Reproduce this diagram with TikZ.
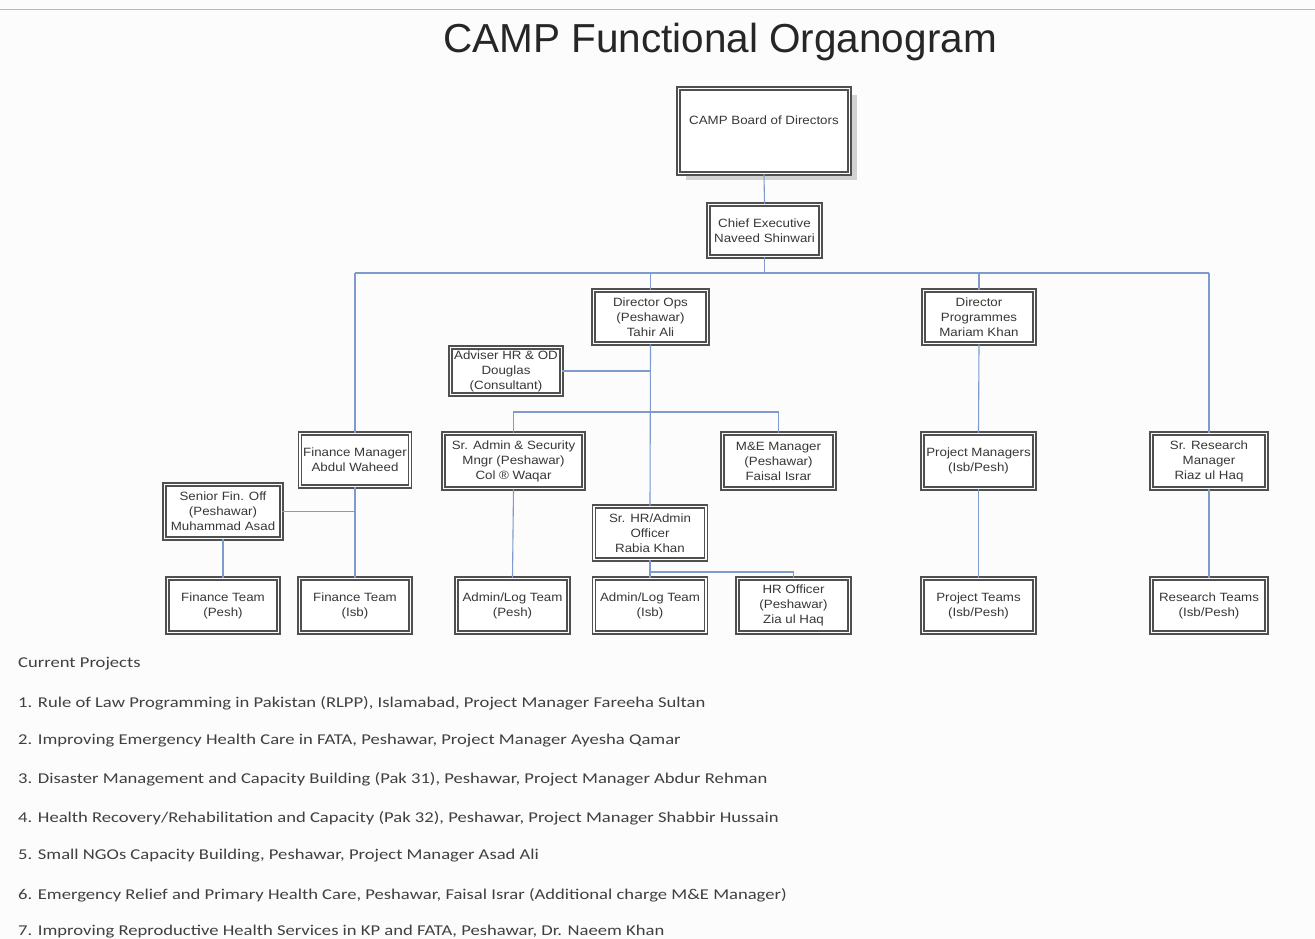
\documentclass[tikz,border=0pt]{standalone}
\usepackage{fontspec}
\setmainfont{Liberation Sans}
\newfontfamily\listfont[FakeStretch=1.24]{Carlito}
\newfontfamily\boxfont[FakeStretch=1.11]{Liberation Sans}
\usetikzlibrary{shadows}
\definecolor{boxgray}{RGB}{80,80,80}
\definecolor{conn}{RGB}{125,155,205}
\definecolor{txt}{RGB}{55,55,55}
\definecolor{bg}{RGB}{252,252,252}
\begin{document}
\begin{tikzpicture}[x=1pt,y=-1pt,
  orgbox/.style={draw=boxgray, line width=1.5pt, double=white, double distance=1.4pt,
    fill=white, align=center, inner sep=1pt, text=txt,
    font=\boxfont\fontsize{12}{15}\selectfont},
  link/.style={draw=conn, line width=1.1pt},
  listitem/.style={anchor=west, inner sep=0pt, text=black!75, font=\listfont\fontsize{15}{18}\selectfont}]
\useasboundingbox (0,0) rectangle (1315,939);
\fill[bg] (0,0) rectangle (1315,939);
\draw[gray!55, line width=1pt] (0,10) -- (1315,10);

\node[font=\fontsize{40.5}{44}\selectfont, text=black!85] (title) at (720,42) {CAMP Functional Organogram};

% boxes
\node[orgbox, minimum width=171pt, minimum height=85pt,
  drop shadow={shadow xshift=7pt, shadow yshift=-7pt, fill=gray!35, opacity=1}] (board) at (764,131) {\raisebox{6pt}[0pt][0pt]{CAMP Board of Directors}};
\node[orgbox, minimum width=112pt, minimum height=52pt] (ce) at (764.5,230.5) {Chief Executive\\Naveed Shinwari};
\node[orgbox, minimum width=114pt, minimum height=53pt] (dops) at (650.5,317) {Director Ops\\(Peshawar)\\Tahir Ali};
\node[orgbox, minimum width=111pt, minimum height=53pt] (dprog) at (979,317) {Director\\Programmes\\Mariam Khan};
\node[orgbox, minimum width=111pt, minimum height=47pt] (adv) at (506,371) {Adviser HR \& OD\\Douglas\\(Consultant)};
\node[orgbox, minimum width=110pt, minimum height=53pt] (fm) at (355,460) {Finance Manager\\Abdul Waheed};
\node[orgbox, minimum width=140pt, minimum height=55pt] (sadm) at (513.5,461) {Sr. Admin \& Security\\Mngr (Peshawar)\\Col \textregistered{} Waqar};
\node[orgbox, minimum width=112pt, minimum height=55pt] (me) at (778.5,461) {M\&E Manager\\(Peshawar)\\Faisal Israr};
\node[orgbox, minimum width=112pt, minimum height=55pt] (pm) at (978.5,461) {Project Managers\\(Isb/Pesh)};
\node[orgbox, minimum width=115pt, minimum height=55pt] (srm) at (1209,461) {Sr. Research\\Manager\\Riaz ul Haq};
\node[orgbox, minimum width=117pt, minimum height=54pt] (sfo) at (223,511.5) {Senior Fin. Off\\(Peshawar)\\Muhammad Asad};
\node[orgbox, minimum width=112pt, minimum height=53pt] (shr) at (650,533) {Sr. HR/Admin\\Officer\\Rabia Khan};
\node[orgbox, minimum width=111pt, minimum height=54pt] (ftp) at (223,605.5) {Finance Team\\(Pesh)};
\node[orgbox, minimum width=111pt, minimum height=54pt] (fti) at (355,605.5) {Finance Team\\(Isb)};
\node[orgbox, minimum width=112pt, minimum height=54pt] (alp) at (512.5,605.5) {Admin/Log Team\\(Pesh)};
\node[orgbox, minimum width=112pt, minimum height=54pt] (ali) at (650,605.5) {Admin/Log Team\\(Isb)};
\node[orgbox, minimum width=112pt, minimum height=54pt] (hro) at (793.5,605.5) {HR Officer\\(Peshawar)\\Zia ul Haq};
\node[orgbox, minimum width=112pt, minimum height=54pt] (pt) at (978.5,605.5) {Project Teams\\(Isb/Pesh)};
\node[orgbox, minimum width=115pt, minimum height=54pt] (rt) at (1209,605.5) {Research Teams\\(Isb/Pesh)};

% bus coordinates
\coordinate (busL) at (355,273);
\coordinate (busR) at (1209,273);
\coordinate (b2) at (650,412);
\coordinate (b3) at (650,572);

% connectors
\draw[link] (board.south) -- (ce.north);
\draw[link] (ce.south) -- (ce.south |- busL);
\draw[link] (busL) -- (busR);
\draw[link] (busL) -- (fm.north);
\draw[link] (dops.north |- busL) -- (dops.north);
\draw[link] (dprog.north |- busL) -- (dprog.north);
\draw[link] (busR) -- (srm.north);
\draw[link] (dops.south) -- (shr.north);
\draw[link] (adv.east) -- (adv.east -| dops.south);
\draw[link] (sadm.north) -- (sadm.north |- b2) -| (me.north);
\draw[link] (fm.south) -- (fti.north);
\draw[link] (sfo.east) -- (sfo.east -| fm.south);
\draw[link] (sfo.south) -- (ftp.north);
\draw[link] (sadm.south) -- (alp.north);
\draw[link] (shr.south) -- (ali.north);
\draw[link] (b3) -| (hro.north);
\draw[link] (dprog.south) -- (pm.north);
\draw[link] (pm.south) -- (pt.north);
\draw[link] (srm.south) -- (rt.north);

% project list
\node[listitem] (cp) at (18,664) {Current Projects};
\node[listitem] (p1) at (18,703) {1. Rule of Law Programming in Pakistan (RLPP), Islamabad, Project Manager Fareeha Sultan};
\node[listitem] (p2) at (18,741) {2. Improving Emergency Health Care in FATA, Peshawar, Project Manager Ayesha Qamar};
\node[listitem] (p3) at (18,779) {3. Disaster Management and Capacity Building (Pak 31), Peshawar, Project Manager Abdur Rehman};
\node[listitem] (p4) at (18,818) {4. Health Recovery/Rehabilitation and Capacity (Pak 32), Peshawar, Project Manager Shabbir Hussain};
\node[listitem] (p5) at (18,856) {5. Small NGOs Capacity Building, Peshawar, Project Manager Asad Ali};
\node[listitem] (p6) at (18,895) {6. Emergency Relief and Primary Health Care, Peshawar, Faisal Israr (Additional charge M\&E Manager)};
\node[listitem] (p7) at (18,932) {7. Improving Reproductive Health Services in KP and FATA, Peshawar, Dr. Naeem Khan};
\end{tikzpicture}
\end{document}
